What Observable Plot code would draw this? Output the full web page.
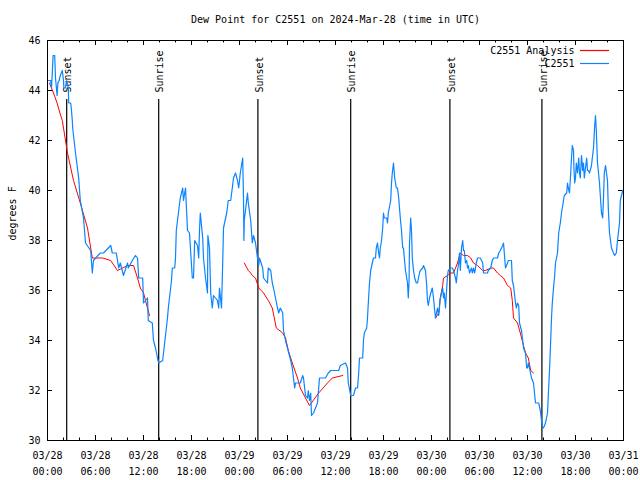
<!DOCTYPE html>
<html><head><meta charset="utf-8">
<script src="https://cdn.jsdelivr.net/npm/d3@7"></script>
<script src="https://cdn.jsdelivr.net/npm/@observablehq/plot@0.6"></script>
<style>body{margin:0;background:#fff}</style>
</head><body><div id="chart"></div>
<script>
const title = "Dew Point for C2551 on 2024-Mar-28 (time in UTC)";
const yLabel = "degrees F";
const startUTC = "2024-03-28T00:00:00Z";
const endUTC = "2024-03-31T00:00:00Z";
const yDomain = [30, 46];
const yTicks = [30, 32, 34, 36, 38, 40, 42, 44, 46];
const seriesNames = ["C2551 Analysis", "C2551"];
const seriesColors = ["#ff0000", "#0a84ff"];

// Sunset / sunrise markers (hours after 03/28 00:00 UTC)
const sunHours = [2.4, 13.9, 26.3, 37.9, 50.3, 61.8];
const sunLabels = ["Sunset", "Sunrise", "Sunset", "Sunrise", "Sunset", "Sunrise"];

// C2551 observations (hours after 03/28 00:00 UTC, degrees F)
const obsHours = [0.0,0.4,0.5,0.6,0.7,0.9,1.0,1.2,1.3,1.45,1.6,1.85,2.0,2.05,2.25,2.4,2.6,2.65,2.9,3.0,3.1,3.15,3.5,3.9,4.1,4.5,4.75,5.4,5.6,5.75,6.6,7.0,7.9,8.1,8.6,8.9,9.1,9.5,10.0,10.1,10.6,11.0,11.25,11.4,11.9,12.0,12.5,12.6,13.1,13.25,13.5,13.75,13.9,14.4,14.75,15.0,15.1,15.5,15.6,15.9,16.0,16.1,16.4,16.6,16.9,17.0,17.25,17.5,17.75,18.1,18.25,18.4,18.75,18.9,19.0,19.1,19.4,19.5,19.75,20.0,20.05,20.25,20.4,20.6,20.75,21.25,21.4,21.5,21.75,21.9,22.0,22.4,22.6,22.9,23.1,23.25,23.5,23.75,23.9,24.1,24.4,24.5,24.55,24.6,25.0,25.1,25.4,25.6,25.75,26.0,26.25,26.4,26.5,26.9,27.0,27.25,27.5,27.6,27.9,28.1,28.25,28.5,28.75,28.9,29.1,29.4,29.5,29.75,30.0,30.4,30.6,30.75,30.9,31.0,31.6,31.9,32.0,32.25,32.5,32.6,32.75,32.9,33.0,33.25,33.75,34.0,34.75,35.1,35.4,36.4,36.6,37.25,37.5,37.6,37.9,38.25,38.5,38.75,38.9,39.0,39.4,39.5,39.6,39.9,40.0,40.1,40.25,40.4,40.6,40.75,41.0,41.1,41.25,41.4,41.5,41.6,41.75,41.9,42.0,42.1,42.4,42.5,42.6,42.9,43.0,43.1,43.25,43.3,43.4,43.6,43.75,43.9,44.1,44.25,44.4,44.5,44.6,44.75,45.0,45.1,45.2,45.25,45.4,45.5,45.6,45.75,45.9,46.1,46.25,46.5,46.6,46.9,47.0,47.25,47.4,47.5,47.6,47.75,48.0,48.1,48.25,48.4,48.5,48.75,48.9,49.0,49.05,49.25,49.4,49.5,49.6,49.75,50.0,50.1,50.4,50.6,50.75,51.0,51.1,51.25,51.4,51.5,51.6,51.75,51.9,52.0,52.1,52.25,52.4,52.5,52.6,52.75,53.0,53.1,53.25,53.4,53.6,53.75,54.1,54.4,54.5,55.0,55.1,55.4,55.6,55.75,56.25,56.4,56.6,56.9,57.0,57.1,57.25,57.5,57.6,58.0,58.1,58.25,58.5,58.6,58.75,58.9,59.0,59.25,59.4,59.5,59.75,59.9,60.0,60.1,60.25,60.5,60.75,61.0,61.4,61.6,61.75,61.9,62.0,62.25,62.5,62.6,62.75,62.9,63.0,63.1,63.25,63.4,63.5,63.75,63.9,64.1,64.25,64.5,64.6,64.9,65.0,65.1,65.25,65.4,65.5,65.6,65.75,65.8,65.9,66.0,66.1,66.25,66.4,66.5,66.6,66.75,66.9,67.0,67.1,67.4,67.5,67.6,67.75,68.0,68.1,68.25,68.4,68.5,68.6,68.75,69.0,69.1,69.25,69.4,69.5,69.6,69.75,70.0,70.1,70.25,70.5,70.75,70.9,71.1,71.25,71.5,71.6,71.75,71.9];
const obsValues = [44.4,44.4,44.1,44.7,45.4,45.4,44.5,43.8,44.3,44.4,44.6,44.8,44.4,44.1,44.1,44.4,44.1,43.5,43.5,43.2,42.8,42.5,41.5,40.5,39.6,38.9,37.9,37.6,36.7,37.2,37.5,37.5,37.8,37.5,37.5,36.9,37.1,36.6,37.1,36.9,37.2,37.4,37.3,36.5,36.5,35.5,35.7,34.8,34.7,34.0,33.7,33.3,33.1,33.2,34.2,34.9,35.3,36.4,36.9,36.9,37.3,38.4,39.2,39.7,40.1,39.6,40.1,38.4,38.3,36.5,36.5,38.0,37.8,37.3,38.4,39.1,38.1,37.3,36.5,35.9,38.2,37.7,35.9,35.3,35.8,35.6,35.3,36.1,35.3,37.1,38.5,39.1,39.6,39.6,40.1,40.5,40.7,40.4,40.1,40.7,41.3,39.7,38.0,38.8,39.9,39.5,38.8,37.9,38.2,37.9,37.3,37.0,37.3,36.9,36.5,36.4,36.3,36.9,36.8,36.3,36.1,35.7,35.3,35.1,35.3,35.1,34.4,34.0,33.7,33.2,32.9,32.5,32.1,32.3,32.3,32.6,32.5,31.8,31.7,32.0,31.6,31.9,31.0,31.1,31.5,32.5,32.5,32.7,32.8,32.8,33.0,33.1,32.9,32.3,31.8,31.8,32.1,32.1,32.7,33.3,33.3,34.0,34.3,34.5,34.9,35.5,36.3,36.8,37.1,37.3,37.3,37.7,37.9,37.5,37.3,37.7,38.0,38.5,39.1,38.9,38.9,38.7,39.1,39.6,40.3,40.7,41.1,40.9,40.5,40.1,40.1,39.7,38.9,38.4,37.7,37.7,37.3,36.8,36.3,35.7,36.4,37.9,38.9,38.4,37.3,36.8,36.5,36.3,36.3,36.7,36.8,36.9,37.0,36.8,36.2,35.6,35.4,35.7,36.0,36.1,35.7,35.2,34.9,35.3,35.0,35.3,35.6,35.9,36.1,35.7,35.9,35.3,36.6,36.8,36.9,36.9,36.8,36.5,36.3,36.8,37.1,37.5,36.8,37.7,38.0,37.6,37.6,37.1,37.2,36.9,37.0,36.7,36.9,36.7,36.9,36.7,37.1,37.3,37.3,37.1,36.7,36.7,36.8,36.9,37.2,37.3,37.3,37.5,37.6,37.8,37.9,37.5,36.9,37.1,37.2,37.2,36.4,36.2,35.5,35.3,35.5,35.4,34.7,34.4,34.0,33.7,33.5,32.9,32.9,33.1,32.9,32.5,32.3,31.5,31.5,31.2,30.8,30.5,30.5,30.7,31.1,31.8,32.8,34.0,34.9,35.5,36.1,36.6,37.1,37.5,38.3,38.7,39.1,39.6,39.8,39.9,40.3,40.1,39.9,40.7,41.3,41.8,41.6,40.9,40.3,40.5,41.1,40.7,41.3,40.7,40.5,41.4,40.8,41.1,40.5,41.3,40.8,40.8,40.7,41.0,41.3,41.7,42.6,43.0,42.4,41.1,40.3,39.8,39.1,38.9,39.7,40.7,41.0,40.4,39.3,38.3,37.7,37.5,37.4,37.5,38.0,38.7,39.6,39.8,40.0];

// C2551 Analysis (null marks a gap)
const anaHours = [0.25,0.75,1.2,1.55,1.85,2.5,3.25,4.1,5.0,5.4,5.6,6.0,6.9,7.9,8.75,9.4,10.0,10.75,11.25,11.6,12.0,12.5,12.75,12.8,24.6,25.1,25.4,25.6,26.0,26.4,27.0,27.6,28.1,28.6,29.4,29.75,30.1,30.6,31.25,31.6,32.25,32.75,33.9,35.0,35.6,36.9,37.0,48.5,48.9,49.1,49.4,49.5,50.0,50.4,50.75,51.0,51.25,51.5,51.6,52.0,52.5,52.9,53.25,53.75,54.4,54.75,55.4,55.75,56.25,56.6,57.0,57.5,57.9,58.1,58.25,58.75,59.1,59.5,59.75,60.1,60.4,60.75];
const anaValues = [44.3,43.9,43.5,43.1,42.8,41.5,40.4,39.5,38.5,37.7,37.3,37.3,37.3,37.2,36.8,36.9,37.0,37.0,36.5,36.1,35.9,35.3,35.0,null,37.1,36.8,36.7,36.6,36.5,36.1,35.9,35.6,35.3,34.5,34.3,34.1,33.6,33.1,32.5,32.1,31.7,31.4,31.9,32.3,32.5,32.6,null,34.9,35.1,35.7,36.2,36.5,36.6,36.7,36.7,36.9,37.1,37.4,37.5,37.4,37.4,37.3,37.1,37.0,36.8,36.8,36.9,36.9,36.7,36.6,36.5,36.2,36.1,35.6,34.9,34.7,34.3,33.8,33.5,33.3,32.8,32.7];

const t0 = Date.parse(startUTC);
const toDate = h => new Date(t0 + h * 3600e3);
const obs = obsHours.map((h, i) => ({t: toDate(h), v: obsValues[i]}));
const ana = anaHours.map((h, i) => ({t: toDate(h), v: anaValues[i]}));
const sun = sunHours.map((h, i) => ({t: toDate(h), label: sunLabels[i]}));

const xStart = new Date(startUTC), xEnd = new Date(endUTC);
const majorX = d3.utcHour.every(6).range(xStart, new Date(+xEnd + 1));
const minorX = d3.utcHour.every(2).range(xStart, new Date(+xEnd + 1)).filter(d => d.getUTCHours() % 6 !== 0);
const fmt = d3.utcFormat("%m/%d\n%H:%M");

const W = 640, H = 480, mL = 47, mR = 17, mT = 40, mB = 40;
const fw = W - mL - mR, fh = H - mT - mB;

const chart = Plot.plot({
  width: W, height: H,
  marginLeft: mL, marginRight: mR, marginTop: mT, marginBottom: mB,
  style: {fontFamily: "'DejaVu Sans Mono', monospace", fontSize: "10px", background: "#fff", color: "#000"},
  x: {type: "utc", domain: [xStart, xEnd]},
  y: {domain: yDomain},
  marks: [
    Plot.axisX({ticks: majorX, tickSize: 0, tickPadding: 7, tickFormat: fmt, label: null, lineHeight: 1.6, fill: "#000"}),
    Plot.axisY({ticks: yTicks, tickSize: 0, tickPadding: 7, label: null, fill: "#000"}),
    Plot.ruleX(majorX, {insetTop: fh - 5, stroke: "#000"}),
    Plot.ruleX(majorX, {insetBottom: fh - 5, stroke: "#000"}),
    Plot.ruleX(minorX, {insetTop: fh - 2.5, stroke: "#000"}),
    Plot.ruleX(minorX, {insetBottom: fh - 2.5, stroke: "#000"}),
    Plot.ruleY(yTicks, {insetRight: fw - 5, stroke: "#000"}),
    Plot.ruleY(yTicks, {insetLeft: fw - 5, stroke: "#000"}),
    Plot.ruleX(sun, {x: "t", insetTop: 59, stroke: "#000", strokeWidth: 1.2}),
    Plot.text(sun, {x: "t", text: "label", frameAnchor: "top", dy: 52, dx: 1.5, rotate: -90, textAnchor: "start", lineAnchor: "middle", fill: "#000"}),
    Plot.line(ana, {x: "t", y: "v", stroke: seriesColors[0], strokeWidth: 1}),
    Plot.line(obs, {x: "t", y: "v", stroke: seriesColors[1], strokeWidth: 1.2}),
    Plot.frame({stroke: "#000"}),
    Plot.text([title], {frameAnchor: "top", dy: -21, lineAnchor: "middle", fill: "#000"}),
    Plot.text([yLabel], {frameAnchor: "left", dx: -35, rotate: -90, lineAnchor: "middle", fill: "#000"}),
    ...seriesNames.map((name, i) => Plot.text([name], {frameAnchor: "top-right", dx: -49, dy: 10 + 13 * i, textAnchor: "end", lineAnchor: "middle", fill: "#000"})),
    ...seriesNames.map((name, i) => Plot.ruleY([yDomain[1]], {dy: 10 + 13 * i, insetLeft: 533, insetRight: 14, stroke: seriesColors[i], strokeWidth: 1.2}))
  ]
});
document.getElementById("chart").appendChild(chart);
</script>
</body></html>
